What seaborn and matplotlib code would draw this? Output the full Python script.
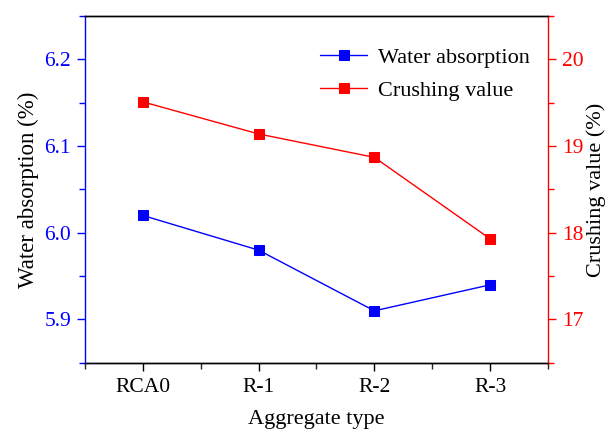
import matplotlib
matplotlib.use("Agg")
import matplotlib.pyplot as plt
from matplotlib.ticker import MultipleLocator
import seaborn as sns
import pandas as pd

aggregate_types = ["RCA0", "R-1", "R-2", "R-3"]
water_absorption = [6.02, 5.98, 5.91, 5.94]
crushing_value = [19.51, 19.14, 18.87, 17.93]

sns.set_theme(style="ticks")
plt.rcParams["font.family"] = ["Liberation Serif", "DejaVu Serif"]
plt.rcParams["text.color"] = "black"
plt.rcParams["axes.labelcolor"] = "black"

df = pd.DataFrame({
    "Aggregate type": aggregate_types,
    "Water absorption": water_absorption,
    "Crushing value": crushing_value,
})
df["x"] = range(len(df))

fig = plt.figure(figsize=(6.11, 4.33), dpi=100)
ax = fig.add_axes([0.139, 0.162, 0.758, 0.801])
ax2 = ax.twinx()

blue = "#0000ff"
red = "#ff0000"

sns.lineplot(data=df, x="x", y="Water absorption", ax=ax, color=blue,
             marker="s", markersize=6.5, markeredgecolor=blue, linewidth=1,
             label="Water absorption", legend=False)
sns.lineplot(data=df, x="x", y="Crushing value", ax=ax2, color=red,
             marker="s", markersize=6.5, markeredgecolor=red, linewidth=1,
             label="Crushing value", legend=False)

ax.set_xlim(-0.5, 3.5)
ax.set_xticks(range(len(aggregate_types)))
ax.set_xticklabels(aggregate_types)
ax.xaxis.set_minor_locator(MultipleLocator(0.5))
ax.set_ylim(5.85, 6.25)
ax.yaxis.set_major_locator(MultipleLocator(0.1))
ax.yaxis.set_minor_locator(MultipleLocator(0.05))
ax2.set_ylim(16.5, 20.5)
ax2.yaxis.set_major_locator(MultipleLocator(1))
ax2.yaxis.set_minor_locator(MultipleLocator(0.5))

ax.set_xlabel("Aggregate type", fontsize=16, labelpad=9, color="black")
ax.set_ylabel("Water absorption (%)", fontsize=16.5, labelpad=4, color="black")
ax2.set_ylabel("Crushing value (%)", fontsize=16, labelpad=2, color="black")

for a in (ax, ax2):
    for s in a.spines.values():
        s.set_linewidth(1)
        s.set_color("black")
ax.spines["left"].set_color(blue)
ax2.spines["left"].set_visible(False)
ax2.spines["right"].set_color(red)
ax.spines["right"].set_visible(False)

ax.tick_params(axis="x", which="major", direction="out", length=6, width=1,
               labelsize=15.5, colors="black", pad=5)
ax.tick_params(axis="x", which="minor", direction="out", length=4, width=1)
ax.tick_params(axis="y", which="major", direction="out", length=6, width=1,
               labelsize=15.5, colors=blue, left=True, pad=4)
ax.tick_params(axis="y", which="minor", direction="out", length=4, width=1,
               colors=blue, left=True)
ax2.tick_params(axis="y", which="major", direction="out", length=6, width=1,
                labelsize=15.5, colors=red, right=True, pad=4)
ax2.tick_params(axis="y", which="minor", direction="out", length=4, width=1,
                colors=red, right=True)

h1, l1 = ax.get_legend_handles_labels()
h2, l2 = ax2.get_legend_handles_labels()
leg = ax2.legend(h1 + h2, l1 + l2, loc="upper right", frameon=False, fontsize=16,
                 handlelength=2.1, handletextpad=0.5, borderaxespad=0.0,
                 labelspacing=0.55, bbox_to_anchor=(0.98, 0.935))
for t in leg.get_texts():
    t.set_color("black")

fig.savefig("out.png", dpi=100)
